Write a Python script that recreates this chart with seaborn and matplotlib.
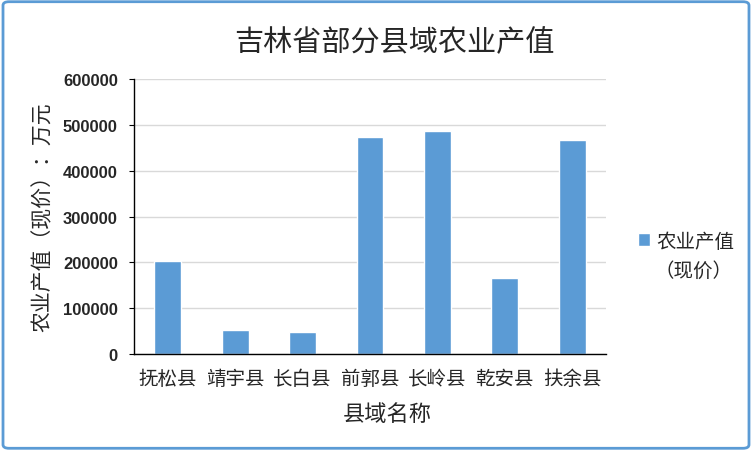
import numpy as np
import pandas as pd
import matplotlib.pyplot as plt
import seaborn as sns
from matplotlib.patches import FancyBboxPatch

counties = ['抚松县', '靖宇县', '长白县', '前郭县', '长岭县', '乾安县', '扶余县']
output_values = [203000, 52400, 48000, 473500, 486500, 165800, 467000]
y_ticks = [0, 100000, 200000, 300000, 400000, 500000, 600000]

df = pd.DataFrame({'county': counties, 'value': output_values})

sns.set_style("white")
plt.rcParams['font.family'] = ['Noto Sans CJK SC', 'DejaVu Sans']

fig = plt.figure(figsize=(7.52, 4.52), dpi=100)
ax = fig.add_axes([134 / 752, 97 / 452, 472 / 752, 275 / 452])

sns.barplot(data=df, x='county', y='value', color='#5B9BD5', width=0.40,
            saturation=1, label='农业产值', ax=ax)

ax.set_ylim(0, 600000)
ax.set_xlim(-0.5, 6.5)
ax.set_yticks(y_ticks)
ax.set_yticklabels([str(v) for v in y_ticks], fontsize=12, fontweight='bold',
                   family=['Liberation Sans', 'DejaVu Sans'])
ax.yaxis.grid(True, color='#D9D9D9', linewidth=1)
ax.set_axisbelow(True)

# tick marks between categories
ax.set_xticks(np.arange(-0.5, 7, 1), minor=True)
ax.tick_params(axis='x', which='major', length=0, pad=10, labelsize=14)
ax.tick_params(axis='x', which='minor', length=3.6, direction='out', color='black')
ax.tick_params(axis='y', length=3.6, pad=8, direction='out', color='black', left=True)

for s in ['top', 'right']:
    ax.spines[s].set_visible(False)
for s in ['left', 'bottom']:
    ax.spines[s].set_color('black')
    ax.spines[s].set_linewidth(1)

ax.set_xlabel('县域名称', fontsize=16, va='center')
ax.xaxis.set_label_coords(0.536, -0.218)
ax.set_ylabel('农业产值（现价）：万元', fontsize=15, va='center')
ax.yaxis.set_label_coords(-0.193, 0.502)
fig.text(394 / 752, 0.905, '吉林省部分县域农业产值', ha='center', va='center', fontsize=21)

ax.legend(loc='center left', bbox_to_anchor=(638 / 752, 1 - 242 / 452),
          bbox_transform=fig.transFigure, frameon=False, fontsize=14, borderpad=0,
          borderaxespad=0, handlelength=0.6, handleheight=0.6, handletextpad=0.35)
fig.text(654 / 752, 1 - 271 / 452, '（现价）', ha='left', va='center', fontsize=14)

border = FancyBboxPatch((0.004, 0.006), 0.992, 0.988, boxstyle='round,pad=0,rounding_size=0.008',
                        transform=fig.transFigure, fill=False, edgecolor='#5B9BD5', linewidth=2)
fig.patches.append(border)

plt.savefig('out.png', dpi=100)
